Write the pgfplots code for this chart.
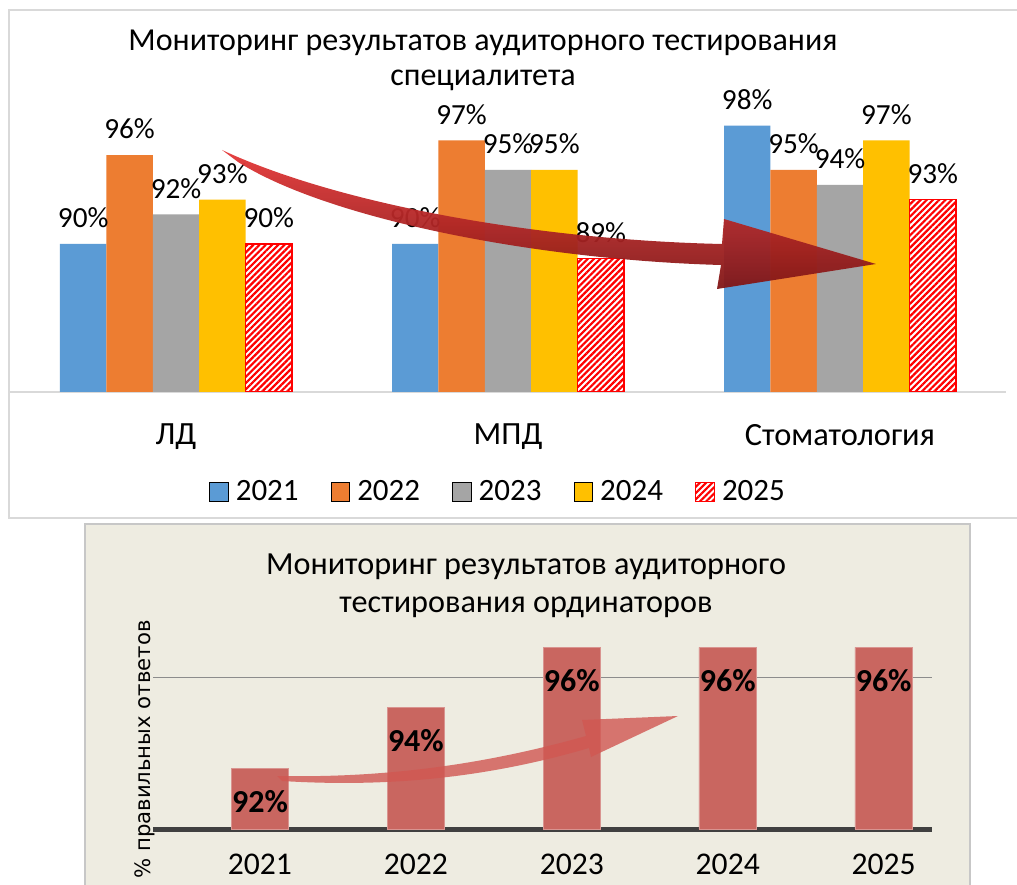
\documentclass[border=0pt]{standalone}
\usepackage{fontspec}
\setmainfont{Carlito}
\newfontfamily\djv{DejaVu Sans}
\usepackage{pgfplots}
\pgfplotsset{compat=1.18}
\usetikzlibrary{patterns.meta}

\definecolor{c21}{HTML}{5B9BD5}
\definecolor{c22}{HTML}{ED7D31}
\definecolor{c23}{HTML}{A5A5A5}
\definecolor{c24}{HTML}{FFC000}
\definecolor{c25}{HTML}{FF0000}
\definecolor{framegray}{HTML}{D9D9D9}
\definecolor{beige}{HTML}{EEECE1}
\definecolor{barred}{HTML}{C96660}
\definecolor{gridgray}{HTML}{8C8C8C}
\definecolor{basegray}{HTML}{404040}
\definecolor{arrowtop}{HTML}{E63838}
\definecolor{arrowbot}{HTML}{801616}

\newcommand{\fs}[1]{\fontsize{#1}{#1}\selectfont}

\pgfplotsset{
  ybar legend/.style={legend image code/.code={\draw[##1] (0pt,-4.7pt) rectangle (9.4pt,4.7pt);}},
}

\begin{document}
\begin{tikzpicture}
\useasboundingbox (0pt,0pt) rectangle (508.5pt,442pt);
\clip (0pt,0pt) rectangle (508.5pt,442pt);

% frames
\fill[white] (0pt,0pt) rectangle (508.5pt,442pt);
\draw[framegray, line width=1pt] (4.5pt,183pt) rectangle (520pt,437pt);
\filldraw[fill=beige, draw=framegray!80!gray, line width=0.8pt] (42.5pt,-5pt) rectangle (485pt,180pt);

% top chart
\node[align=center, font=\fontsize{16}{17.5}\selectfont] at (241.5pt,412pt)
  {Мониторинг результатов аудиторного тестирования\\специалитета};

\begin{axis}[
  at={(5pt,246pt)}, anchor=south west,
  scale only axis, width=498pt, height=148pt,
  xmin=-0.5, xmax=2.5, ymin=80, ymax=100,
  ybar=0pt, bar width=23.2pt,
  axis x line*=bottom, axis y line=none,
  x axis line style={draw=framegray, line width=1pt},
  xtick={0,1,2}, xticklabels={ЛД,МПД,Стоматология},
  major tick length=0pt,
  xticklabel style={font=\fs{16.2}, yshift=-12.5pt},
  ytick=\empty,
  /pgf/number format/assume math mode=true,
  nodes near coords={\pgfmathprintnumber{\pgfplotspointmeta}\%},
  every node near coord/.append style={font=\fs{14.6}, yshift=4.5pt},
  legend columns=-1,
  legend style={at={(axis description cs:0.491,-0.338)}, anchor=center,
    draw=none, fill=none, font=\fs{15.5},
    /tikz/every odd column/.append style={column sep=1.5pt},
    /tikz/every even column/.append style={column sep=14pt}},
]
\addplot[fill=c21, draw=none] coordinates {(0,90) (1,90) (2,98)};
\addplot[fill=c22, draw=none] coordinates {(0,96) (1,97) (2,95)};
\addplot[fill=c23, draw=none] coordinates {(0,92) (1,95) (2,94)};
\addplot[fill=c24, draw=none] coordinates {(0,93) (1,95) (2,97)};
\addplot[draw=c25, line width=0.6pt, fill=white,
  pattern={Lines[angle=45,distance=2.2pt,line width=1.1pt]}, pattern color=c25]
  coordinates {(0,90) (1,89) (2,93)};
\legend{2021,2022,2023,2024,2025}
\end{axis}

% bottom chart
\node[align=center, font=\fontsize{16.1}{19}\selectfont] at (263pt,149pt)
  {Мониторинг результатов аудиторного\\тестирования ординаторов};

\begin{axis}[
  at={(76.5pt,27.5pt)}, anchor=south west,
  scale only axis, width=389.5pt, height=106pt,
  xmin=-0.686, xmax=4.31, ymin=90, ymax=97,
  ybar, bar width=28.75pt,
  axis x line*=bottom, axis y line*=left,
  x axis line style={draw=basegray, line width=2.5pt},
  y axis line style={draw=none},
  xtick={0,1,2,3,4}, xticklabels={2021,2022,2023,2024,2025},
  major tick length=0pt,
  xticklabel style={font=\fs{15.8}, yshift=-9pt},
  ytick={95}, yticklabels={}, ymajorgrids,
  grid style={draw=gridgray, line width=0.8pt},
  ylabel={\% правильных ответов},
  ylabel style={at={(axis description cs:-0.0103,0.375)}, anchor=center, font=\djv\fs{10.6}},
  /pgf/number format/assume math mode=true,
  nodes near coords={\pgfmathprintnumber{\pgfplotspointmeta}\%},
  every node near coord/.append style={font=\bfseries\fs{16}, anchor=center, yshift=-16.5pt},
]
\addplot[fill=barred, draw=barred!70!white, line width=0.4pt]
  coordinates {(0,92) (1,94) (2,96) (3,96) (4,96)};
\end{axis}

% decorative arrows (pixel coordinates)
\begin{scope}[x=0.5pt, y=-0.5pt, yshift=442pt]
\shade[top color=arrowtop, bottom color=arrowbot, opacity=0.95]
  (222,150) .. controls (340,205) and (540,240) .. (722,244)
  -- (724,219) -- (876,264) -- (717,289) -- (721,265)
  .. controls (540,260) and (330,220) .. (238,162) -- cycle;
\fill[barred!85!red, opacity=0.8]
  (277,776) .. controls (380,778) and (480,766) .. (586,736)
  -- (582,720) -- (678,716) -- (591,757) -- (589,748)
  .. controls (480,780) and (380,787) .. (282,781) -- cycle;
\end{scope}
\end{tikzpicture}
\end{document}
